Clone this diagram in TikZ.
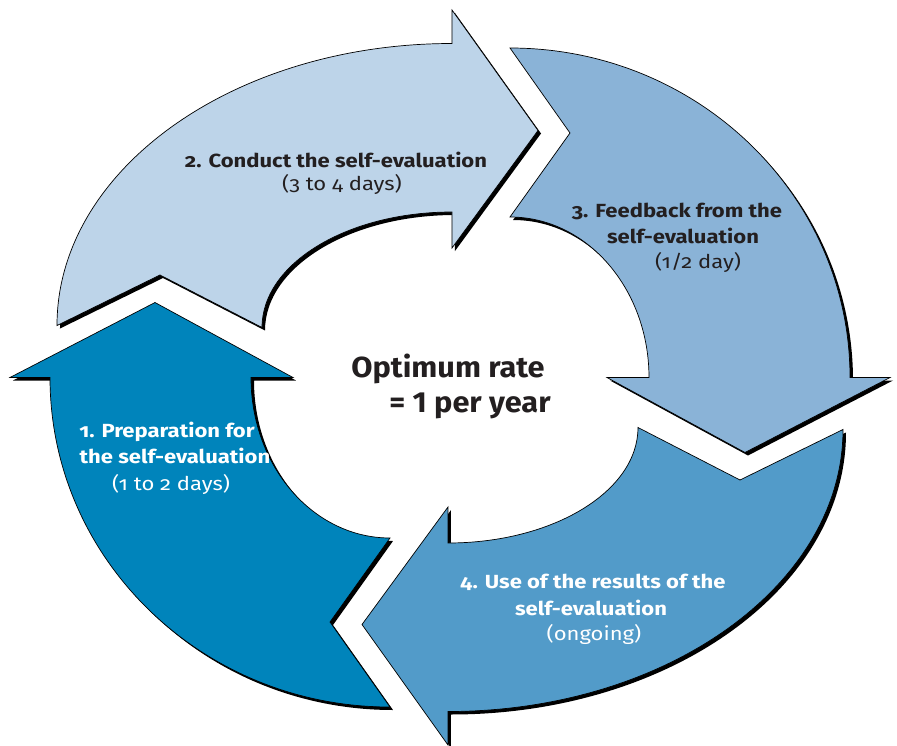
\documentclass[tikz,border=0pt]{standalone}
\usepackage{fontspec}
\setmainfont{Fira Sans}[Numbers=OldStyle,FakeStretch=1.16]
\newfontfamily\ratefont{Fira Sans}[Numbers=Lining,FakeStretch=1.06]
\usetikzlibrary{positioning}
\definecolor{prepblue}{RGB}{0,132,187}
\definecolor{conductblue}{RGB}{189,212,233}
\definecolor{feedbackblue}{RGB}{138,179,215}
\definecolor{useblue}{RGB}{82,155,201}
\definecolor{inkdark}{RGB}{35,31,32}

% one quarter of the ring, the others are rotated copies
\newcommand{\toparrow}{(-393,52) arc[start angle=180,end angle=90,x radius=395pt,y radius=282pt]
  -- (2,367.5) -- (88,247) -- (2,129.5) -- (2,165.5)
  arc[start angle=90,end angle=180,x radius=190pt,y radius=115.5pt] -- (-290,102.5) -- cycle}
\newcommand{\sidearrow}{(60,329.5) arc[start angle=90,end angle=0,x radius=340pt,y radius=329.5pt]
  -- (440,0) -- (295,-75) -- (157,0) -- (199,0)
  arc[start angle=0,end angle=90,x radius=139pt,y radius=160.5pt] -- (120,244.5) -- cycle}

\begin{document}
\begin{tikzpicture}[x=1pt,y=1pt,
  shadowfill/.style={fill=black,shift={(3,-3)}},
  ringpart/.style={draw=black,line width=0.7pt},
  lbl/.style={anchor=base,inner sep=0pt,font=\fontsize{19}{23}\selectfont},
  boldlbl/.style={lbl,font=\fontsize{19}{23}\selectfont\bfseries},
  ratelbl/.style={anchor=base,inner sep=0pt,text=inkdark,
    font=\ratefont\fontsize{29}{34}\selectfont\bfseries}]

  \useasboundingbox (-450,-367.5) rectangle (447,377.5);

  % shadows first
  \fill[shadowfill] \toparrow;
  \fill[shadowfill] \sidearrow;
  \fill[shadowfill,rotate=180] \toparrow;
  \fill[shadowfill,rotate=180] \sidearrow;

  % the four steps
  \filldraw[ringpart,fill=conductblue] \toparrow;
  \filldraw[ringpart,fill=feedbackblue] \sidearrow;
  \filldraw[ringpart,fill=useblue,rotate=180] \toparrow;
  \filldraw[ringpart,fill=prepblue,rotate=180] \sidearrow;

  % step 1
  \node[boldlbl,text=white] (prep1) at (-283,-59.5) {1. Preparation for};
  \node[boldlbl,text=white] (prep2) at (-275,-85.5) {the self-evaluation};
  \node[lbl,text=white] (prep3) at (-279,-112.5) {(1 to 2 days)};

  % step 2
  \node[boldlbl,text=inkdark] (conduct1) at (-114,210.5) {2. Conduct the self-evaluation};
  \node[lbl,text=inkdark] (conduct2) at (-108,187.5) {(3 to 4 days)};

  % step 3
  \node[boldlbl,text=inkdark] (feedback1) at (227,160.5) {3. Feedback from the};
  \node[boldlbl,text=inkdark] (feedback2) at (233,134.5) {self-evaluation};
  \node[lbl,text=inkdark] (feedback3) at (248,109.5) {(1/2 day)};

  % step 4
  \node[boldlbl,text=white] (use1) at (143,-210.5) {4. Use of the results of the};
  \node[boldlbl,text=white] (use2) at (141,-237.5) {self-evaluation};
  \node[lbl,text=white] (use3) at (144,-262.5) {(ongoing)};

  % centre
  \node[ratelbl] (rate1) at (-2,0.5) {Optimum rate};
  \node[ratelbl] (rate2) at (20,-34.5) {= 1 per year};

\end{tikzpicture}
\end{document}
